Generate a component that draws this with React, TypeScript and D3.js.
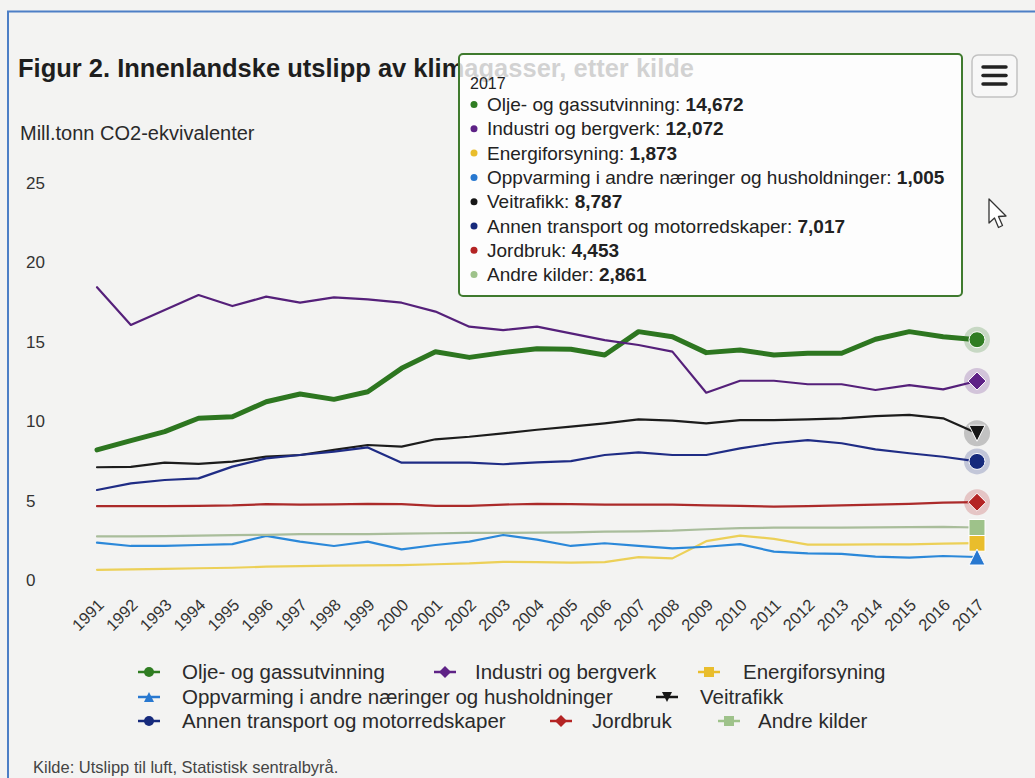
import React from 'react';
import * as d3 from 'd3';

const years = ['1991', '1992', '1993', '1994', '1995', '1996', '1997', '1998', '1999', '2000', '2001', '2002', '2003', '2004',
  '2005', '2006', '2007', '2008', '2009', '2010', '2011', '2012', '2013', '2014', '2015', '2016', '2017'];

const oljeGass = [7.74, 8.32, 8.89, 9.73, 9.83, 10.77, 11.26, 10.92, 11.4, 12.87, 13.92, 13.56, 13.86, 14.1, 14.07, 13.71,
  15.18, 14.86, 13.86, 14.03, 13.71, 13.82, 13.82, 14.7, 15.18, 14.86, 14.672];
const industri = [17.97, 15.6, 16.54, 17.48, 16.79, 17.38, 17.0, 17.34, 17.21, 17.0, 16.44, 15.49, 15.28, 15.5, 15.07, 14.65,
  14.34, 13.92, 11.34, 12.09, 12.09, 11.87, 11.87, 11.51, 11.82, 11.55, 12.072];
const energi = [0.2, 0.23, 0.26, 0.3, 0.33, 0.4, 0.43, 0.46, 0.48, 0.5, 0.55, 0.6, 0.7, 0.68, 0.65, 0.68,
  1.0, 0.92, 2.0, 2.35, 2.15, 1.78, 1.78, 1.8, 1.8, 1.85, 1.873];
const oppvarming = [1.91, 1.7, 1.7, 1.76, 1.82, 2.33, 1.97, 1.7, 1.97, 1.49, 1.76, 1.97, 2.39, 2.1, 1.7, 1.87,
  1.7, 1.55, 1.65, 1.82, 1.34, 1.24, 1.2, 1.03, 0.97, 1.07, 1.005];
const veitrafikk = [6.65, 6.67, 6.94, 6.86, 7.0, 7.32, 7.42, 7.74, 8.05, 7.95, 8.41, 8.57, 8.78, 9.01, 9.2, 9.41,
  9.66, 9.58, 9.41, 9.62, 9.62, 9.66, 9.73, 9.87, 9.94, 9.73, 8.787];
const annenTransport = [5.22, 5.64, 5.85, 5.95, 6.69, 7.21, 7.42, 7.63, 7.9, 6.94, 6.94, 6.94, 6.84, 6.96, 7.04, 7.42,
  7.59, 7.42, 7.42, 7.84, 8.16, 8.36, 8.16, 7.78, 7.53, 7.31, 7.017];
const jordbruk = [4.2, 4.2, 4.2, 4.22, 4.25, 4.33, 4.3, 4.32, 4.35, 4.33, 4.22, 4.22, 4.3, 4.35, 4.33, 4.3,
  4.3, 4.3, 4.25, 4.22, 4.18, 4.2, 4.25, 4.3, 4.35, 4.42, 4.453];
const andreKilder = [2.3, 2.3, 2.32, 2.35, 2.38, 2.4, 2.45, 2.45, 2.45, 2.48, 2.5, 2.52, 2.52, 2.54, 2.55, 2.6,
  2.62, 2.66, 2.75, 2.82, 2.85, 2.86, 2.86, 2.87, 2.88, 2.9, 2.861];

const yTicks = [0, 5, 10, 15, 20, 25];

const seriesNames = ['Olje- og gassutvinning', 'Industri og bergverk', 'Energiforsyning',
  'Oppvarming i andre næringer og husholdninger', 'Veitrafikk', 'Annen transport og motorredskaper',
  'Jordbruk', 'Andre kilder'];

const FONT = '"Liberation Sans", Arial, sans-serif';

const series = [
  { name: seriesNames[0], values: oljeGass, line: '#2d7620', color: '#2f7d22', symbol: 'circle', width: 5 },
  { name: seriesNames[1], values: industri, line: '#55207a', color: '#5e2286', symbol: 'diamond', width: 2.2 },
  { name: seriesNames[2], values: energi, line: '#ecd058', color: '#e9bd2c', symbol: 'square', width: 2.2 },
  { name: seriesNames[3], values: oppvarming, line: '#2b88d9', color: '#2878d0', symbol: 'triangle', width: 2.2 },
  { name: seriesNames[4], values: veitrafikk, line: '#1c1c1c', color: '#161616', symbol: 'triangle-down', width: 2.2 },
  { name: seriesNames[5], values: annenTransport, line: '#1f2c85', color: '#162a7c', symbol: 'circle', width: 2.2 },
  { name: seriesNames[6], values: jordbruk, line: '#ab2a2a', color: '#b42424', symbol: 'diamond', width: 2.2 },
  { name: seriesNames[7], values: andreKilder, line: '#a9bd9b', color: '#9ec28a', symbol: 'square', width: 2.2 },
];

// Highcharts-like marker shapes
const markerPath = (symbol: string, cx: number, cy: number, r: number) => {
  switch (symbol) {
    case 'circle':
      return `M${cx - r},${cy}a${r},${r} 0 1,0 ${2 * r},0a${r},${r} 0 1,0 ${-2 * r},0Z`;
    case 'diamond':
      return `M${cx},${cy - r}L${cx + r},${cy}L${cx},${cy + r}L${cx - r},${cy}Z`;
    case 'square':
      return `M${cx - r},${cy - r}h${2 * r}v${2 * r}h${-2 * r}Z`;
    case 'triangle':
      return `M${cx},${cy - r}L${cx + r},${cy + r}L${cx - r},${cy + r}Z`;
    default:
      return `M${cx - r},${cy - r}L${cx + r},${cy - r}L${cx},${cy + r}Z`;
  }
};

const fmt = (v: number) => d3.format('.3f')(v).replace('.', ',');

const App = () => {
  const x = d3.scalePoint().domain(years).range([97, 977]);
  const y = d3.scaleLinear().domain([0, 25]).range([573, 175.5]);

  const line = d3.line<number>()
    .x((d, i) => x(years[i]) as number)
    .y(d => y(d))
    .curve(d3.curveLinear);

  const last = years[years.length - 1];

  // legend layout (rows of the Highcharts legend)
  const legendPos = [
    { sx: 149, tx: 182, ty: 672 },
    { sx: 445, tx: 475, ty: 672 },
    { sx: 709, tx: 743, ty: 672 },
    { sx: 149, tx: 182, ty: 697 },
    { sx: 667, tx: 700, ty: 697 },
    { sx: 149, tx: 182, ty: 721 },
    { sx: 561, tx: 592, ty: 721 },
    { sx: 729, tx: 758, ty: 721 },
  ];

  const tipRows = series.map(s => ({ name: s.name, color: s.color, value: s.values[s.values.length - 1] }));

  return (
    <svg width={1035} height={778} style={{ position: 'absolute', left: 0, top: 0 }} fontFamily={FONT}>
      <rect x={0} y={0} width={1035} height={778} fill="#f3f3f2" />
      <path d="M8,778V11.5H1035" fill="none" stroke="#4d7fc6" strokeWidth={2} />

      <text x={18} y={77} fontSize={25.5} fontWeight="bold" fill="#1e1e1e">
        Figur 2. Innenlandske utslipp av klimagasser, etter kilde
      </text>
      <text x={20} y={140} fontSize={20} fill="#2a2a2a">Mill.tonn CO2-ekvivalenter</text>

      {yTicks.map(t => (
        <text key={t} x={26} y={y(t) + 13} fontSize={17} fill="#333">{t}</text>
      ))}

      {years.map(yr => (
        <text key={yr} fontSize={16.5} fill="#333" textAnchor="end"
          transform={`translate(${(x(yr) as number) + 8},${606}) rotate(-45)`}>{yr}</text>
      ))}

      <g fill="none" strokeLinejoin="round" strokeLinecap="round">
        {series.map(s => (
          <path key={s.name} d={line(s.values) || ''} stroke={s.line} strokeWidth={s.width} />
        ))}
      </g>

      {/* hover markers at 2017 */}
      {series.map((s, i) => {
        const cx = x(last) as number;
        const cy = y(s.values[s.values.length - 1]);
        const halo = i !== 2 && i !== 3 && i !== 7;
        return (
          <g key={s.name}>
            {halo && <circle cx={cx} cy={cy} r={13} fill={s.color} opacity={0.22} />}
            <path d={markerPath(s.symbol, cx, cy, s.symbol === 'diamond' ? 9 : 8)}
              fill={s.color} stroke="#ffffff" strokeWidth={1} />
          </g>
        );
      })}

      {/* legend */}
      {series.map((s, i) => {
        const p = legendPos[i];
        return (
          <g key={s.name}>
            <line x1={p.sx - 11} x2={p.sx + 11} y1={p.ty} y2={p.ty} stroke={s.color} strokeWidth={2.5} />
            <path d={markerPath(s.symbol, p.sx, p.ty, s.symbol === 'diamond' ? 6 : 5)} fill={s.color} />
            <text x={p.tx} y={p.ty + 7} fontSize={20.5} fill="#2a2a2a">{s.name}</text>
          </g>
        );
      })}

      <text x={33} y={773} fontSize={16.5} fill="#444">Kilde: Utslipp til luft, Statistisk sentralbyrå.</text>

      {/* tooltip */}
      <g>
        <rect x={459} y={54} width={503} height={242} rx={4} fill="#ffffff" fillOpacity={0.8}
          stroke="#3f7a2e" strokeWidth={2} />
        <text x={470} y={89} fontSize={16} fill="#222">{last}</text>
        {tipRows.map((r, i) => (
          <g key={r.name}>
            <circle cx={474} cy={104.5 + i * 24.3} r={3.5} fill={r.color} />
            <text x={487} y={111 + i * 24.3} fontSize={19} fill="#222">
              {r.name}: <tspan fontWeight="bold">{fmt(r.value)}</tspan>
            </text>
          </g>
        ))}
      </g>

      {/* context menu button */}
      <rect x={972} y={55} width={45} height={42} rx={6} fill="#f7f7f7" stroke="#c2c2c2" strokeWidth={1.5} />
      <g stroke="#222" strokeWidth={3.5} strokeLinecap="round">
        <line x1={983} x2={1006} y1={67} y2={67} />
        <line x1={983} x2={1006} y1={75.5} y2={75.5} />
        <line x1={983} x2={1006} y1={84} y2={84} />
      </g>

      {/* mouse pointer */}
      <path d="M989,199L989,223L994.5,218L998.5,227.5L1002.5,225.5L998.5,216.5L1006,216Z"
        fill="#ffffff" stroke="#333" strokeWidth={1.3} strokeLinejoin="round" />
    </svg>
  );
};

export default App;
